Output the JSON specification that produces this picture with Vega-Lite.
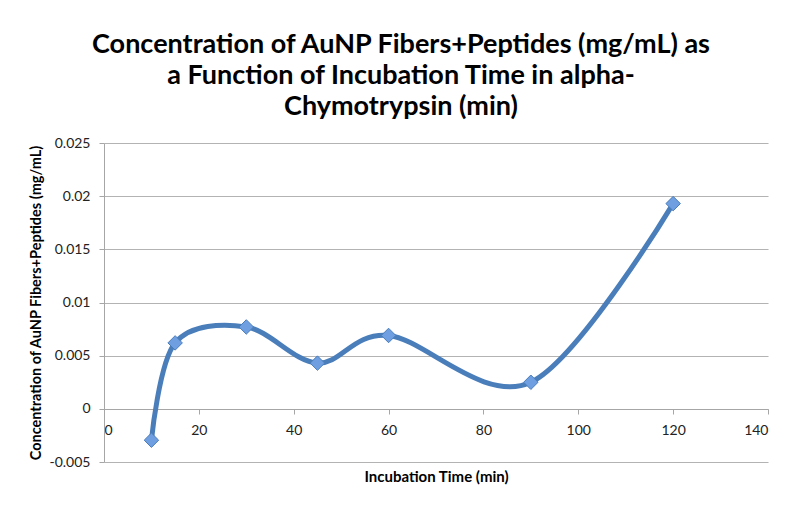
{
  "$schema": "https://vega.github.io/schema/vega-lite/v6.json",
  "width": 664,
  "height": 319,
  "autosize": {"type": "none"},
  "padding": {"left": 104, "top": 143, "right": 32, "bottom": 46},
  "background": "white",
  "config": {
    "view": {"stroke": null},
    "font": "Lato"
  },
  "title": {
    "text": [
      "Concentration of AuNP Fibers+Peptides (mg/mL) as",
      "a Function of Incubation Time in alpha-",
      "Chymotrypsin (min)"
    ],
    "font": "Lato",
    "fontSize": 27,
    "fontWeight": "bold",
    "lineHeight": 31,
    "color": "black",
    "anchor": "middle",
    "dx": -35,
    "offset": 15
  },
  "data": {
    "values": [
      {"time": 10, "conc": -0.00295},
      {"time": 15, "conc": 0.0062},
      {"time": 30, "conc": 0.0077},
      {"time": 45, "conc": 0.0043},
      {"time": 60, "conc": 0.0069},
      {"time": 90, "conc": 0.0025},
      {"time": 120, "conc": 0.0193}
    ]
  },
  "encoding": {
    "x": {
      "field": "time",
      "type": "quantitative",
      "scale": {"domain": [0, 140], "nice": false, "zero": false},
      "axis": {
        "title": "Incubation Time (min)",
        "values": [0, 20, 40, 60, 80, 100, 120, 140],
        "grid": false,
        "offset": -53,
        "domainColor": "#a6a6a6",
        "tickColor": "#a6a6a6",
        "tickSize": 5,
        "labelPadding": 9,
        "labelFontSize": 14,
        "labelColor": "#222",
        "labelFont": "Lato",
        "titleFont": "Lato",
        "titleFontSize": 15,
        "titleFontWeight": "bold",
        "titleColor": "black",
        "titlePadding": 32
      }
    },
    "y": {
      "field": "conc",
      "type": "quantitative",
      "scale": {"domain": [-0.005, 0.025], "nice": false, "zero": false},
      "axis": {
        "title": "Concentration of AuNP Fibers+Peptides (mg/mL)",
        "values": [-0.005, 0, 0.005, 0.01, 0.015, 0.02, 0.025],
        "labelExpr": "'' + datum.value",
        "gridColor": "#b3b3b3",
        "gridWidth": 1,
        "domainColor": "#a6a6a6",
        "tickColor": "#a6a6a6",
        "tickSize": 5,
        "labelPadding": 9,
        "labelFontSize": 14,
        "labelColor": "#222",
        "labelFont": "Lato",
        "titleFont": "Lato",
        "titleFontSize": 14.5,
        "titleFontWeight": "bold",
        "titleColor": "black",
        "titlePadding": 6
      }
    }
  },
  "layer": [
    {
      "mark": {
        "type": "line",
        "interpolate": "cardinal",
        "tension": 0,
        "color": "#4a7ebb",
        "strokeWidth": 5
      }
    },
    {
      "mark": {
        "type": "point",
        "shape": "diamond",
        "filled": true,
        "size": 210,
        "fill": "#6f9fe0",
        "stroke": "#4a7ebb",
        "strokeWidth": 1,
        "opacity": 1
      }
    }
  ]
}
